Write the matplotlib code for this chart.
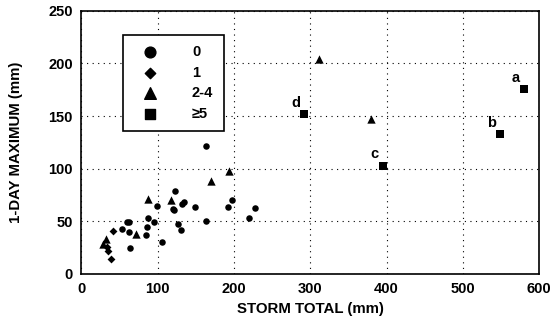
import matplotlib
matplotlib.use("Agg")
import matplotlib.pyplot as plt

plt.rcParams['font.family'] = ['Liberation Sans', 'DejaVu Sans']

# storm total (mm) vs 1-day maximum (mm), by group
x0 = [164, 123, 99, 120, 122, 132, 135, 149, 198, 192, 227, 220, 164, 127, 131,
      87, 95, 86, 85, 60, 63, 53, 63, 64, 106]
y0 = [122, 79, 65, 62, 61, 66, 68, 64, 70, 64, 63, 53, 50, 47, 42,
      53, 49, 45, 37, 49, 49, 43, 40, 25, 30]
x1 = [42, 34, 35, 39]
y1 = [41, 26, 22, 14]
x2 = [88, 118, 72, 29, 32, 170, 193, 312, 379]
y2 = [71, 70, 38, 28, 33, 88, 98, 204, 147]
x5 = [580, 549, 395, 292]
y5 = [176, 133, 103, 152]
lab5 = ['a', 'b', 'c', 'd']

fig = plt.figure(figsize=(5.53, 3.30), dpi=100)
ax = fig.add_axes([0.147, 0.170, 0.828, 0.797])

ax.scatter(x0, y0, marker='o', s=22, c='black', linewidths=0, zorder=3)
ax.scatter(x1, y1, marker='D', s=16, c='black', linewidths=0, zorder=3)
ax.scatter(x2, y2, marker='^', s=36, c='black', linewidths=0, zorder=3)
ax.scatter(x5, y5, marker='s', s=30, c='black', linewidths=0, zorder=3)
for i, j, k in zip(x5, y5, lab5):
    ax.annotate(k, (i, j), xytext=(-6, 3), textcoords='offset points',
                fontsize=10.5, fontweight='bold', ha='center', va='bottom')

ax.set_xlim(0, 600)
ax.set_ylim(0, 250)
ax.set_xticks(range(0, 601, 100))
ax.set_yticks(range(0, 251, 50))
ax.grid(True, linestyle=(0, (1, 4)), color='black', linewidth=0.8)
ax.tick_params(length=0, labelsize=10.5, pad=6)
for t in ax.get_xticklabels() + ax.get_yticklabels():
    t.set_fontweight('bold')
for s in ax.spines.values():
    s.set_linewidth(1.2)

ax.set_xlabel('STORM TOTAL (mm)', fontsize=10.8, fontweight='bold', labelpad=4)
ax.set_ylabel('1-DAY MAXIMUM (mm)', fontsize=10.8, fontweight='bold', labelpad=18)

# legend
h = [ax.scatter([], [], marker='o', s=60, c='black'),
     ax.scatter([], [], marker='D', s=28, c='black'),
     ax.scatter([], [], marker='^', s=70, c='black'),
     ax.scatter([], [], marker='s', s=60, c='black')]
leg = ax.legend(h, ['0', '1', '2-4', '\u22655'], loc='upper left',
                bbox_to_anchor=(0.092, 0.909), frameon=True, fancybox=False,
                edgecolor='black', framealpha=1, handletextpad=1.7,
                labelspacing=0.45, borderpad=0.7, borderaxespad=0,
                handlelength=2.3, prop={'size': 10.5, 'weight': 'bold'})
leg.get_frame().set_linewidth(1.2)

fig.savefig('out.png', dpi=100)
